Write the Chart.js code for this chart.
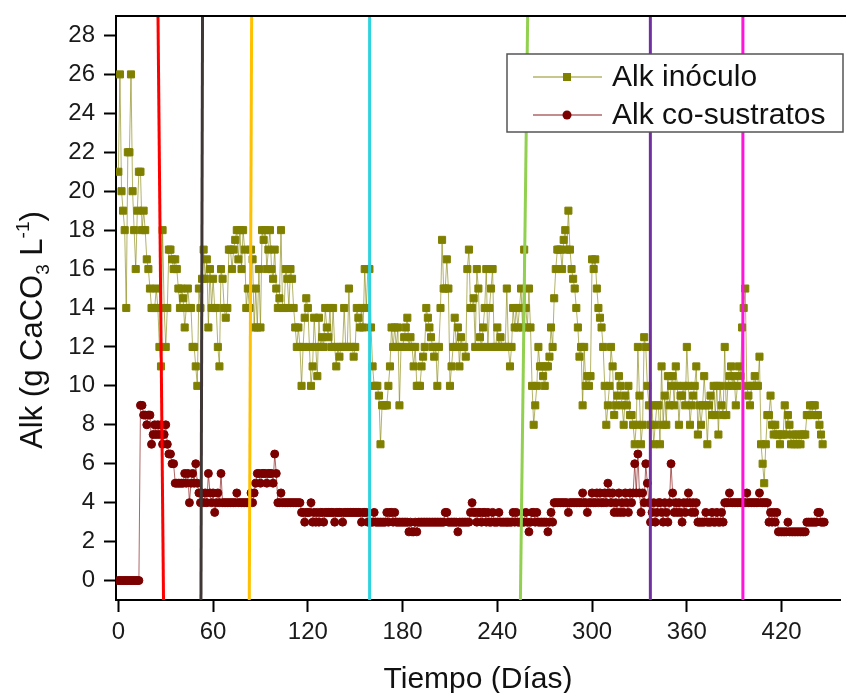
<!DOCTYPE html>
<html>
<head>
<meta charset="utf-8">
<script src="https://cdn.jsdelivr.net/npm/chart.js@4.4.1/dist/chart.umd.min.js"></script>
<style>
  html, body { margin: 0; padding: 0; background: #fff; }
  #wrap { position: relative; width: 846px; height: 693px; }
</style>
</head>
<body>
<div id="wrap"><canvas id="myChart" width="846" height="693"></canvas></div>
<script>
// Alk inóculo, one reading per day from day 0
const inoculo = [
  21, 26, 20, 19, 18, 14, 22, 22, 26, 20,
  18, 16, 19, 21, 21, 18, 19, 18, 16.5, 16,
  15, 14, 14, 14, 15, 14, 12, 11, 18, 14,
  12, 14, 17, 17, 16.5, 16, 16.5, 16, 15, 14,
  15, 14.5, 13, 14, 15, 14, 14, 12, 12, 11,
  10, 15, 14, 15.5, 17, 15.5, 16.5, 13, 16, 14,
  15.5, 14, 14, 12, 11, 16, 15.5, 14, 13.5, 14,
  17, 17, 16, 17, 17.5, 18, 16.5, 18, 16, 18,
  17, 14, 15, 14, 17, 16.5, 13, 15, 13, 16,
  13, 18, 17.5, 18, 16, 17, 18, 16, 15.5, 17,
  15, 14, 14.5, 18, 14, 14, 16, 15.5, 14, 16,
  15.5, 14, 13, 12, 13, 12, 10, 12, 13.5, 14.5,
  14, 12, 10, 11, 13.5, 12, 10.5, 13.5, 12, 12.5,
  12, 14, 13, 12.5, 14, 12, 14, 12, 11, 12,
  11.5, 12, 12, 14, 12, 12, 15, 12, 12, 11.5,
  12, 14, 13.5, 13, 14, 13, 16, 14, 16, 16,
  13, 11, 10, 10, 10, 9.5, 7, 9, 9, 9,
  9, 10, 11, 13, 12, 13, 12, 13, 9, 12,
  12, 12.5, 13, 13.5, 12, 12.5, 12, 11, 12, 10,
  10, 10, 11, 11.5, 12, 14, 13.5, 13, 12.5, 12,
  11.5, 12, 10, 12, 14, 17.5, 15, 15, 16.5, 15,
  10, 11, 12, 13.5, 12, 13, 11, 12.5, 12, 12,
  11.5, 16, 17, 14, 14, 14.5, 12, 16, 15, 12.5,
  12, 13, 14, 16, 12, 14, 15, 16, 12, 12,
  13, 12, 12.5, 12, 12, 12, 15, 12, 11, 12,
  14, 13, 14, 13, 14, 15, 13, 17, 14, 13,
  15, 13, 10, 8, 9, 10, 12, 11, 11, 10.5,
  10, 11, 11, 11.5, 13, 12, 14.5, 16, 17, 17,
  17, 16, 17.5, 18, 17, 19, 17, 16, 15.5, 15,
  14, 13, 11.5, 12, 9, 12, 10, 10.5, 10, 10.5,
  16.5, 16, 16.5, 15, 14, 13.5, 13, 12, 10, 8,
  9, 10, 12, 11, 8.5, 9, 9.5, 10.5, 10, 9,
  8, 9.5, 9, 10, 8.5, 8.5, 8, 7, 8, 12,
  9.5, 7, 8, 12.5, 12, 10, 9, 8, 9, 7,
  8, 9, 9, 7, 11, 8, 9.5, 8, 10.5, 9,
  10, 10.5, 9, 11, 10, 8, 9.5, 9.5, 10, 9,
  12, 10, 8, 9, 9.5, 10, 11, 7.5, 9, 8,
  9, 10.5, 9, 7, 9, 9.5, 8.5, 10, 8.5, 10,
  7.5, 10, 9, 8.5, 12, 8.5, 10, 10.5, 11, 10,
  10.5, 9, 10, 11, 10.5, 13, 14, 15, 10, 9.5,
  9, 10, 10, 10.5, 10, 10, 11.5, 7, 6, 5,
  7, 8.5, 8.5, 9.5, 8, 7.5, 8, 7.5, 7.5, 7,
  7.5, 7.5, 9, 7.5, 8.5, 8, 7, 7.5, 7, 7.5,
  7, 7.5, 7, 7.5, 7.5, 7.5, 8.5, 8.5, 9, 8.5,
  9, 9, 8.5, 8.5, 8, 7.5, 7
];

// Alk co-sustratos, one reading per day from day 0
const coSustratos = [
  0, 0, 0, 0, 0, 0, 0, 0, 0, 0,
  0, 0, 0, 0, 9, 9, 8.5, 8.5, 8, 8.5,
  8.5, 7, 7.5, 8, 7.5, 8, 7.5, 8, 7, 7.5,
  8, 7, 6.5, 6.5, 6, 6, 5, 5, 5, 5,
  5, 5, 5.5, 5, 5.5, 4, 5, 5.5, 5, 6,
  5, 4.5, 4, 4.5, 4, 4.5, 4, 5.5, 4.5, 4,
  4.5, 3.5, 4, 4.5, 4, 5.5, 4, 4, 4, 4,
  4, 4, 4, 4, 4, 4.5, 4, 4, 4, 4,
  4, 4, 4, 4, 4.5, 4, 4.5, 5, 5.5, 5.5,
  5, 5.5, 5.5, 5.5, 5, 5.5, 5.5, 5.5, 5, 6.5,
  5.5, 4, 4, 4.5, 4, 4, 4, 4, 4, 4,
  4, 4, 4, 4, 4, 4, 3.5, 3.5, 3, 3.5,
  3.5, 3.5, 4, 3, 3.5, 3, 3.5, 3, 3.5, 3.5,
  3, 3.5, 3.5, 3.5, 3.5, 3.5, 3.5, 3, 3.5, 3.5,
  3.5, 3.5, 3, 3.5, 3.5, 3.5, 3.5, 3.5, 3.5, 3.5,
  3.5, 3.5, 3.5, 3.5, 3, 3.5, 3.5, 3.5, 3, 3,
  3, 3, 3.5, 3, 3, 3, 3, 3, 3, 3,
  3.5, 3, 3.5, 3.5, 3, 3.5, 3, 3, 3, 3,
  3, 3, 3, 3, 2.5, 3, 2.5, 2.5, 3, 2.5,
  3, 3, 3, 3, 3, 3, 3, 3, 3, 3,
  3, 3, 3, 3, 3, 3, 3, 3.5, 3.5, 3,
  3, 3, 3, 3, 3, 2.5, 3, 3, 3, 3,
  3, 3, 3, 3.5, 4, 3.5, 3.5, 3, 3.5, 3.5,
  3, 3.5, 3.5, 3, 3.5, 3, 3, 3.5, 3, 3,
  3, 3.5, 3, 3, 3, 3, 3, 3, 3, 3,
  3.5, 3, 3.5, 3, 3, 3, 3, 3, 3.5, 3,
  2.5, 3, 3.5, 3.5, 3, 3.5, 3, 3, 3, 3,
  3, 3, 2.5, 3, 3.5, 3, 4, 4, 4, 4,
  4, 4, 4, 4, 4, 3.5, 4, 4, 4, 4,
  4, 4, 4, 4, 4.5, 4, 4, 3.5, 4, 4,
  4.5, 4, 4, 4.5, 4, 4.5, 4, 4, 4.5, 4,
  5, 4.5, 4, 4.5, 3.5, 4, 3.5, 4.5, 3.5, 4,
  3.5, 4.5, 4, 3.5, 4.5, 4, 4.5, 6, 4.5, 6.5,
  4.5, 3.5, 4.5, 4, 6, 5, 4, 3, 3.5, 4,
  3, 3.5, 4, 4, 3.5, 3, 4, 3.5, 3, 4,
  6, 4.5, 3.5, 4, 3.5, 4, 3.5, 3, 4, 3.5,
  4, 4.5, 4, 3.5, 4, 3.5, 4, 3, 3, 3,
  3, 3, 3.5, 3, 3, 3, 3.5, 3, 3, 3.5,
  3, 3, 3.5, 3, 4, 4, 4, 4.5, 4, 4,
  4, 4, 4, 4, 4, 4, 4, 4, 4.5, 4,
  4, 4, 4, 4, 4, 4, 4.5, 4, 4, 4,
  4, 4, 3, 3.5, 3, 3.5, 3, 3.5, 2.5, 2.5,
  2.5, 2.5, 2.5, 2.5, 3, 2.5, 2.5, 2.5, 2.5, 2.5,
  2.5, 2.5, 2.5, 2.5, 2.5, 2.5, 3, 3, 3, 3,
  3, 3, 3, 3.5, 3.5, 3, 3, 3
];

const xTicks = [0, 60, 120, 180, 240, 300, 360, 420];
const yTicks = [0, 2, 4, 6, 8, 10, 12, 14, 16, 18, 20, 22, 24, 26, 28];

// phase change lines (day at top of plot, day at bottom of plot)
const faseArriba = [25.1, 53.3, 84.4, 159.1, 259.2, 336.9, 395.5];
const faseAbajo = [28.6, 52.3, 82.9, 159.1, 254.6, 336.9, 395.5];
const faseColores = ['#ff0000', '#3f3636', '#ffc000', '#2fd3dd', '#92d050', '#7030a0', '#ff14d8'];

const fam = '"Liberation Sans", Arial, sans-serif';
const olive = '#808000';
const granate = '#7b0000';

const datasets = [];
faseArriba.forEach((d, i) => {
  datasets.push({
    data: [{ x: d, y: 29 }, { x: faseAbajo[i], y: -1 }],
    borderColor: faseColores[i],
    borderWidth: 3,
    pointRadius: 0,
    order: 0
  });
});
datasets.push({
  label: 'Alk inóculo',
  data: inoculo.map((v, i) => ({ x: i, y: v })),
  borderColor: 'rgba(128,128,0,0.6)',
  borderWidth: 1,
  pointStyle: 'rect',
  pointRadius: 5,
  pointBackgroundColor: olive,
  pointBorderColor: olive,
  pointBorderWidth: 1,
  order: 1
});
datasets.push({
  label: 'Alk co-sustratos',
  data: coSustratos.map((v, i) => ({ x: i, y: v })),
  borderColor: 'rgba(123,0,0,0.6)',
  borderWidth: 1,
  pointStyle: 'circle',
  pointRadius: 4,
  pointBackgroundColor: granate,
  pointBorderColor: granate,
  pointBorderWidth: 1,
  order: 2
});

const decor = {
  id: 'decor',
  afterDraw(chart) {
    const ctx = chart.ctx;
    const a = chart.chartArea;
    ctx.save();
    // top frame line
    ctx.strokeStyle = '#000';
    ctx.lineWidth = 2;
    ctx.beginPath();
    ctx.moveTo(a.left - 1, a.top);
    ctx.lineTo(846, a.top);
    ctx.stroke();

    // x title
    ctx.fillStyle = '#111';
    ctx.font = '30px ' + fam;
    ctx.textAlign = 'center';
    ctx.textBaseline = 'alphabetic';
    ctx.fillText('Tiempo (Días)', (a.left + a.right) / 2, 688);

    // y title with sub/superscript
    const parts = [
      { t: 'Alk (g CaCO', f: 31, dy: 0 },
      { t: '3', f: 19, dy: 7 },
      { t: ' L', f: 31, dy: 0 },
      { t: '-1', f: 19, dy: -13 },
      { t: ')', f: 31, dy: 0 }
    ];
    let total = 0;
    parts.forEach(p => { ctx.font = p.f + 'px ' + fam; p.w = ctx.measureText(p.t).width; total += p.w; });
    ctx.translate(42, 330);
    ctx.rotate(-Math.PI / 2);
    ctx.textAlign = 'left';
    let x = -total / 2;
    parts.forEach(p => { ctx.font = p.f + 'px ' + fam; ctx.fillText(p.t, x, p.dy); x += p.w; });
    ctx.restore();

    // legend
    ctx.save();
    ctx.fillStyle = '#fff';
    ctx.fillRect(507, 54, 336, 78);
    ctx.strokeStyle = '#555';
    ctx.lineWidth = 1.5;
    ctx.strokeRect(507, 54, 336, 78);
    const rows = [
      { label: datasets[faseArriba.length].label, y: 77, line: 'rgba(128,128,0,0.6)', fill: olive, shape: 'rect' },
      { label: datasets[faseArriba.length + 1].label, y: 115, line: 'rgba(123,0,0,0.6)', fill: granate, shape: 'circle' }
    ];
    rows.forEach(r => {
      ctx.strokeStyle = r.line;
      ctx.lineWidth = 1.5;
      ctx.beginPath();
      ctx.moveTo(533, r.y);
      ctx.lineTo(602, r.y);
      ctx.stroke();
      ctx.fillStyle = r.fill;
      if (r.shape === 'rect') {
        ctx.fillRect(563, r.y - 4, 8, 8);
      } else {
        ctx.beginPath();
        ctx.arc(567, r.y, 4.5, 0, Math.PI * 2);
        ctx.fill();
      }
      ctx.fillStyle = '#111';
      ctx.font = '30px ' + fam;
      ctx.textAlign = 'left';
      ctx.textBaseline = 'middle';
      ctx.fillText(r.label, 612, r.y + 1);
    });
    ctx.restore();
  }
};

new Chart(document.getElementById('myChart'), {
  type: 'line',
  data: { datasets: datasets },
  options: {
    responsive: false,
    devicePixelRatio: 1,
    animation: false,
    layout: { padding: { left: 0, right: 0, top: 16, bottom: 0 } },
    plugins: { legend: { display: false }, tooltip: { enabled: false } },
    elements: { line: { tension: 0 } },
    scales: {
      x: {
        type: 'linear',
        min: -1.5,
        max: 457,
        afterBuildTicks: s => { s.ticks = xTicks.map(v => ({ value: v })); },
        afterFit: s => { s.height = 93; s.paddingLeft = 0; s.paddingRight = 0; s.paddingTop = 0; s.paddingBottom = 0; },
        grid: { drawOnChartArea: false, drawTicks: true, tickLength: 12, tickWidth: 2, tickColor: '#000' },
        border: { display: true, color: '#000', width: 2 },
        ticks: { font: { family: fam, size: 24 }, color: '#1a1a1a', padding: 6, maxRotation: 0, autoSkip: false }
      },
      y: {
        type: 'linear',
        min: -1,
        max: 29,
        afterBuildTicks: s => { s.ticks = yTicks.map(v => ({ value: v })); },
        afterFit: s => { s.width = 116; s.paddingLeft = 0; s.paddingRight = 0; s.paddingTop = 0; s.paddingBottom = 0; },
        grid: { drawOnChartArea: false, drawTicks: true, tickLength: 12, tickWidth: 2, tickColor: '#000' },
        border: { display: true, color: '#000', width: 2 },
        ticks: { font: { family: fam, size: 24 }, color: '#1a1a1a', padding: 9, autoSkip: false }
      }
    }
  },
  plugins: [decor]
});
</script>
</body>
</html>
